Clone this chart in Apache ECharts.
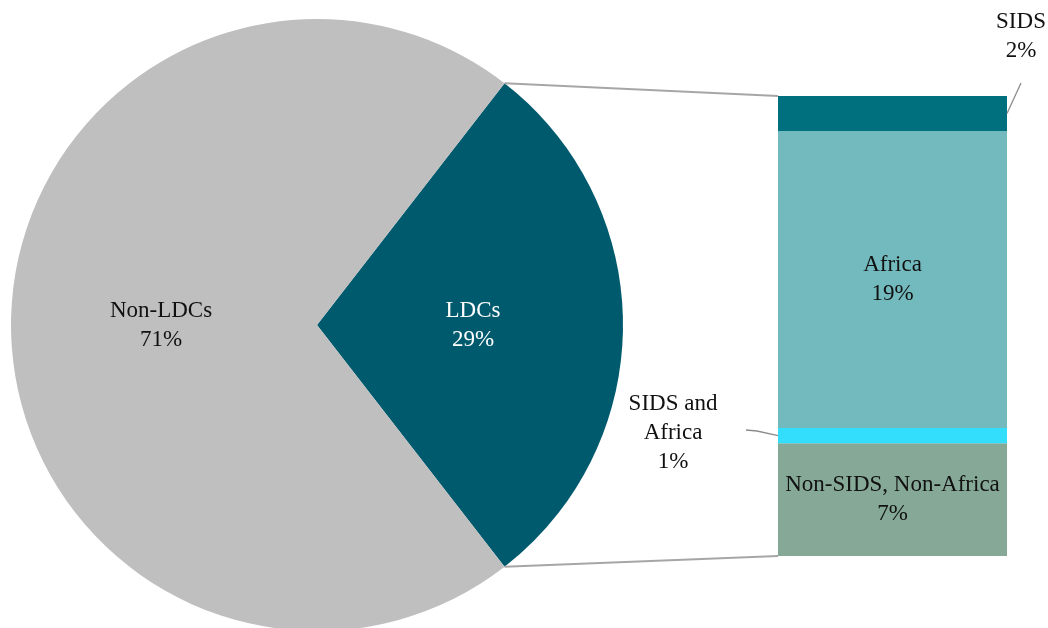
<!DOCTYPE html>
<html>
<head>
<meta charset="utf-8">
<script src="https://cdn.jsdelivr.net/npm/echarts@6/dist/echarts.min.js"></script>
<style>
  html, body { margin: 0; padding: 0; background: #fff; }
  #chart { width: 1048px; height: 628px; }
</style>
</head>
<body>
<div id="chart"></div>
<script>
// pie data
const pieNames = ['LDCs', 'Non-LDCs'];
const pieValues = [29, 71];

// breakdown of LDCs (bottom to top)
const barNames = ['Non-SIDS, Non-Africa', 'SIDS and Africa', 'Africa', 'SIDS'];
const barValues = [7.1, 0.95, 18.7, 2.2];
const barColors = ['#86a997', '#33ddfc', '#73babf', '#00707f'];

const FONT = 'Liberation Serif';
const TEXT = '#111111';

// layout
const cx = 317, cy = 325, R = 306;
const gridLeft = 778, gridTop = 96, gridW = 229, gridH = 460;

const ldcAngle = pieValues[0] / (pieValues[0] + pieValues[1]) * 360;
const half = ldcAngle / 2;
const barTotal = barValues.reduce((a, b) => a + b, 0);
const pxPerUnit = gridH / barTotal;

// connector lines from the edge of the LDC slice to the bar
const rad = half * Math.PI / 180;
const topPt = [cx + R * Math.cos(rad), cy - R * Math.sin(rad)];
const botPt = [cx + R * Math.cos(rad), cy + R * Math.sin(rad)];

// middle of the SIDS segment and of the SIDS and Africa segment (in pixels)
const sidsMidY = gridTop + barValues[3] / 2 * pxPerUnit;
const saMidY = gridTop + gridH - (barValues[0] + barValues[1] / 2) * pxPerUnit;

const barSeries = barNames.map(function (name, i) {
    const s = {
        name: name,
        type: 'bar',
        stack: 'ldc',
        barWidth: '100%',
        data: [barValues[i]],
        itemStyle: { color: barColors[i] },
        label: {
            show: true,
            position: 'inside',
            color: TEXT,
            fontFamily: FONT,
            fontSize: 23,
            lineHeight: 29,
            formatter: function (p) { return p.seriesName + '\n' + Math.round(p.value) + '%'; }
        }
    };
    if (name === 'SIDS') {
        s.labelLayout = { x: 1021, y: 36, align: 'center', verticalAlign: 'middle' };
    }
    if (name === 'SIDS and Africa') {
        s.label.formatter = 'SIDS and\nAfrica\n' + Math.round(barValues[i]) + '%';
        s.labelLayout = { x: 673, y: 433, align: 'center', verticalAlign: 'middle' };
    }
    return s;
});

const chart = echarts.init(document.getElementById('chart'));
chart.setOption({
    backgroundColor: '#ffffff',
    animation: false,
    grid: { left: gridLeft, top: gridTop, width: gridW, height: gridH },
    xAxis: { type: 'category', data: ['LDCs'], show: false },
    yAxis: { type: 'value', min: 0, max: barTotal, show: false },
    graphic: [
        { type: 'line', shape: { x1: topPt[0], y1: topPt[1], x2: gridLeft, y2: gridTop },
          style: { stroke: '#a6a6a6', lineWidth: 2 }, z: 10 },
        { type: 'line', shape: { x1: botPt[0], y1: botPt[1], x2: gridLeft, y2: gridTop + gridH },
          style: { stroke: '#a6a6a6', lineWidth: 2 }, z: 10 },
        // leader for SIDS label
        { type: 'polyline', shape: { points: [[gridLeft + gridW, sidsMidY], [1021, 83]] },
          style: { stroke: '#8c8c8c', lineWidth: 1.3, fill: null }, z: 10 },
        // leader for SIDS and Africa label
        { type: 'polyline', shape: { points: [[746, 430], [757, 431], [gridLeft, saMidY]] },
          style: { stroke: '#8c8c8c', lineWidth: 1.3, fill: null }, z: 10 }
    ],
    series: [
        {
            type: 'pie',
            center: [cx, cy],
            radius: R,
            startAngle: half,
            clockwise: true,
            silent: true,
            data: pieNames.map(function (n, i) {
                return {
                    name: n,
                    value: pieValues[i],
                    itemStyle: { color: i === 0 ? '#005a6e' : '#bfbfbf' },
                    label: { color: i === 0 ? '#ffffff' : TEXT }
                };
            }),
            label: {
                show: true,
                position: 'inside',
                fontFamily: FONT,
                fontSize: 23,
                lineHeight: 29,
                formatter: '{b}\n{d}%'
            },
            labelLine: { show: false }
        }
    ].concat(barSeries)
});
window.onresize = function () {
    chart.resize();
};
</script>
</body>
</html>
